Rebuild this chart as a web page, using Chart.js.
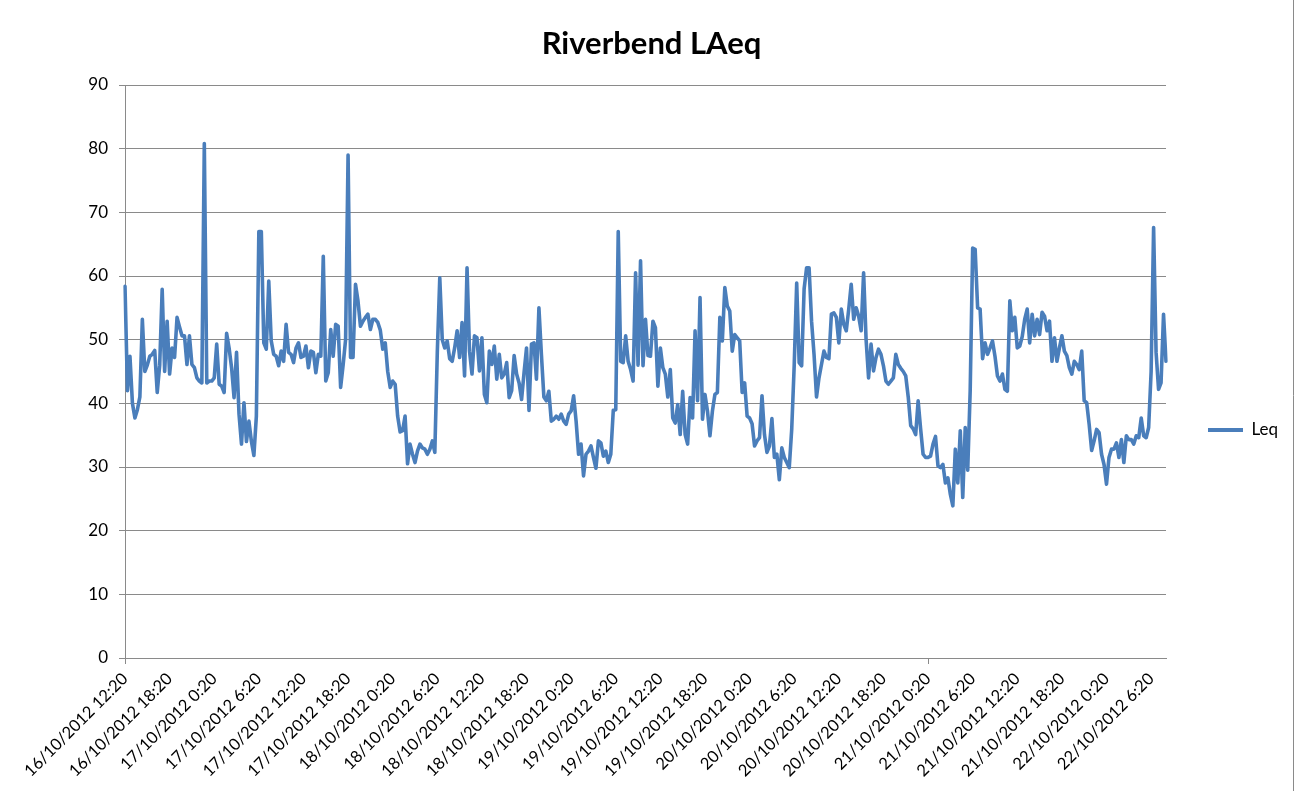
<!DOCTYPE html>
<html>
<head>
<meta charset="utf-8">
<script src="https://cdn.jsdelivr.net/npm/chart.js@4.4.1/dist/chart.umd.min.js"></script>
<style>
  html, body { margin: 0; padding: 0; background: #ffffff; }
  canvas { display: block; }
</style>
</head>
<body>
<canvas id="c" width="1300" height="791"></canvas>
<script>
// ---- Data (LAeq, 20-minute steps) ----
const leq16 = [58.4, 42, 47.4, 40, 37.7, 39, 41, 53.2, 45, 46,
  47.4, 47.7, 48.3, 41.7, 46, 57.9, 45, 52.9, 44.6, 48.7,
  47.2, 53.5, 52, 50.6, 50.6, 46.1, 50.6, 46.1, 45.6, 44,
  43.5, 43.2, 80.8, 43.2, 43.5, 43.5];
const leq17 = [44, 49.3, 43, 42.7, 41.7, 51, 48.7, 45.6, 40.9, 48,
  38.3, 33.6, 40.1, 34, 37.2, 34, 31.8, 38, 67, 67,
  49.5, 48.5, 59.2, 49.8, 47.7, 47.4, 45.9, 48.2, 46.6, 52.4,
  48, 47.7, 46.4, 48.7, 49.5, 47.2, 47.4, 49, 45.6, 48.2,
  48, 44.8, 47.7, 47.4, 63.1, 43.5, 44.8, 51.6, 47.4, 52.4,
  52.1, 42.5, 46, 50, 79, 47.2, 47.2, 58.7, 56.1, 52.1,
  52.9, 53.5, 54, 51.6, 53.2, 53.2, 52.7, 51.5, 48.5, 49.5,
  45, 42.5];
const leq18 = [43.5, 43, 38, 35.5, 35.7, 38, 30.5, 33.6, 32, 30.7,
  32.5, 33.6, 33, 32.8, 32, 32.8, 34.1, 32.3, 48, 59.7,
  50, 48.7, 49.8, 47, 46.6, 48.7, 51.4, 47.2, 52.7, 44.3,
  61.3, 48.2, 44.6, 50.6, 50.3, 45.1, 50.3, 41.4, 40.1, 48.2,
  46.1, 49, 43.8, 47.7, 44, 44.6, 46.4, 40.9, 42, 47.5,
  44.6, 43.2, 40.6, 44.8, 48.7, 38.9, 49.3, 49.5, 43.8, 55,
  47.7, 41, 40.4, 41.9, 37.2, 37.5, 38, 37.5, 38.3, 37.2,
  36.7, 38.3];
const leq19 = [38.8, 41.2, 37.2, 32, 33.6, 28.6, 32, 32.5, 33.3, 31.5,
  29.8, 34.1, 33.8, 31.7, 32.5, 30.7, 32, 38.9, 39, 67,
  46.6, 46.4, 50.6, 46.6, 45.3, 43.5, 60.5, 46, 62.4, 45.9,
  53.2, 47.5, 47.4, 52.9, 51.9, 42.7, 48.7, 45.6, 44.6, 41,
  45.3, 37.7, 36.9, 39.8, 35.1, 41.9, 35.1, 33.6, 40.9, 37.7,
  51.4, 40.4, 56.6, 37.5, 41.4, 38.8, 34.9, 38.8, 41.4, 41.7,
  53.5, 49.8, 58.2, 55.3, 54.5, 48.2, 50.8, 50.3, 49.8, 41.7,
  43.2, 38];
const leq20 = [37.7, 36.8, 33.3, 34.1, 34.6, 41.2, 35.1, 32.3, 33.3, 37.6,
  31.5, 32, 28, 33, 31.5, 30.7, 29.9, 36, 46, 58.9,
  46.4, 45.9, 58, 61.3, 61.3, 52.9, 47.7, 41, 44, 46.1,
  48.2, 47.2, 47, 54, 54.2, 53.5, 49.5, 54.8, 52.4, 51.4,
  54.8, 58.7, 53.2, 55, 53.7, 51.4, 60.5, 50, 44, 49.3,
  45.1, 47.2, 48.5, 47.7, 45.9, 43.5, 43, 43.5, 44, 47.7,
  46.1, 45.5, 45, 44.3, 41, 36.5, 36, 35.1, 40.4, 36,
  32, 31.5];
const leq21 = [31.5, 31.7, 33.6, 34.8, 30.2, 29.9, 30.4, 27.5, 28.3, 25.7,
  23.9, 32.8, 27.5, 35.7, 25.2, 36.2, 29.5, 42, 64.4, 64.2,
  55, 54.8, 47, 49.5, 47.7, 48.7, 49.8, 47.4, 44.3, 43.5,
  44.6, 42.2, 41.9, 56.1, 51.4, 53.5, 48.7, 49, 50.5, 53.2,
  54.8, 49.5, 54, 50.6, 53.2, 50.8, 54.3, 53.7, 51.4, 52.9,
  46.6, 50.3, 46.6, 48.7, 50.6, 48.2, 47.5, 45.6, 44.6, 46.6,
  46.1, 45.3, 48.2, 40.4, 40.1, 36.7, 32.6, 34.1, 35.9, 35.4,
  32, 30.4];
const leq22 = [27.3, 31.5, 32.8, 32.8, 33.8, 31.5, 34.3, 30.7, 34.9, 34.3,
  34.3, 33.6, 34.9, 34.6, 37.7, 34.9, 34.6, 36.2, 45, 67.6,
  48, 42.2, 43.2, 54, 46.6];
const leqValues = [].concat(leq16, leq17, leq18, leq19, leq20, leq21, leq22);

// Axis tick labels shown every 6 hours
const tickLabels = [
  '16/10/2012 12:20', '16/10/2012 18:20',
  '17/10/2012 0:20', '17/10/2012 6:20', '17/10/2012 12:20', '17/10/2012 18:20',
  '18/10/2012 0:20', '18/10/2012 6:20', '18/10/2012 12:20', '18/10/2012 18:20',
  '19/10/2012 0:20', '19/10/2012 6:20', '19/10/2012 12:20', '19/10/2012 18:20',
  '20/10/2012 0:20', '20/10/2012 6:20', '20/10/2012 12:20', '20/10/2012 18:20',
  '21/10/2012 0:20', '21/10/2012 6:20', '21/10/2012 12:20', '21/10/2012 18:20',
  '22/10/2012 0:20', '22/10/2012 6:20'
];
const yTicks = [0, 10, 20, 30, 40, 50, 60, 70, 80, 90];

// Category (timestamp) labels: 20-minute readings from 16/10/2012 12:20
const STEP_MIN = 20;
const PER_TICK = (6 * 60) / STEP_MIN; // 18 readings between labelled ticks
const startMs = Date.UTC(2012, 9, 16, 12, 20);
const categories = leqValues.map((_, i) => {
  const d = new Date(startMs + i * STEP_MIN * 60000);
  return d.getUTCDate() + '/' + (d.getUTCMonth() + 1) + '/' + d.getUTCFullYear() + ' ' +
         d.getUTCHours() + ':' + String(d.getUTCMinutes()).padStart(2, '0');
});

// ---- Styling ----
const FONT = 'Lato';
const GRID = '#8a8a8a';
const AXIS = '#8a8a8a';
const LINE = '#4A7EBB';
const LEG_W = 120;

Chart.defaults.font.family = FONT;

const legendWidthFix = {
  id: 'legendWidthFix',
  beforeLayout(chart) {
    const lg = chart.legend;
    if (lg && !lg.__fixed) {
      const orig = lg.fit.bind(lg);
      lg.fit = function () { orig(); this.width = LEG_W; };
      lg.__fixed = true;
    }
  }
};

const frame = {
  id: 'frame',
  beforeDraw(chart) {
    const c = chart.ctx;
    c.save();
    c.fillStyle = '#ffffff';
    c.fillRect(0, 0, chart.width, chart.height);
    c.strokeStyle = '#8a8a8a';
    c.lineWidth = 1;
    c.beginPath();
    c.moveTo(1293.5, 0);
    c.lineTo(1293.5, chart.height);
    c.stroke();
    c.restore();
  }
};

new Chart(document.getElementById('c'), {
  type: 'line',
  data: {
    labels: categories,
    datasets: [{
      label: 'Leq',
      data: leqValues,
      borderColor: LINE,
      backgroundColor: LINE,
      borderWidth: 3.6,
      pointRadius: 0,
      pointHoverRadius: 0,
      tension: 0,
      fill: false,
      borderJoinStyle: 'round',
      borderCapStyle: 'round'
    }]
  },
  options: {
    responsive: false,
    animation: false,
    devicePixelRatio: 1,
    layout: { padding: { left: 17, right: 14, top: 0, bottom: 0 } },
    plugins: {
      title: {
        display: true,
        text: 'Riverbend LAeq',
        color: '#000000',
        font: { family: FONT, size: 31, weight: 'bold' },
        padding: { top: 25.4, bottom: 22.4 }
      },
      legend: {
        display: true,
        position: 'right',
        align: 'center',
        title: { display: true, text: ' ', font: { size: 1 }, padding: { top: 67.8, bottom: 0 } },
        labels: {
          padding: 42,
          boxWidth: 35,
          boxHeight: 4,
          color: '#000000',
          font: { family: FONT, size: 17 },
          generateLabels(chart) {
            return Chart.defaults.plugins.legend.labels.generateLabels(chart).map(it => ({
              ...it, lineWidth: 0, fillStyle: LINE, strokeStyle: LINE
            }));
          }
        }
      },
      tooltip: { enabled: false }
    },
    scales: {
      x: {
        type: 'category',
        offset: false,
        grid: {
          drawOnChartArea: false,
          drawTicks: true,
          tickLength: 6,
          color: AXIS,
          tickColor: (ctx) => (ctx.index % PER_TICK === 0 ? AXIS : 'rgba(0,0,0,0)')
        },
        border: { color: AXIS, width: 1 },
        ticks: {
          autoSkip: false,
          maxRotation: 45,
          minRotation: 45,
          padding: 5,
          color: '#000000',
          font: { family: FONT, size: 16.5 },
          callback: (v, i) => (i % PER_TICK === 0 ? tickLabels[i / PER_TICK] : null)
        },
        afterFit(scale) { scale.height = 133; }
      },
      y: {
        min: yTicks[0],
        max: yTicks[yTicks.length - 1],
        afterBuildTicks(scale) { scale.ticks = yTicks.map(v => ({ value: v })); },
        grid: { color: GRID, tickLength: 6, tickColor: AXIS },
        border: { color: AXIS, width: 1 },
        ticks: {
          padding: 11,
          color: '#000000',
          font: { family: FONT, size: 17 }
        },
        afterFit(scale) { scale.width = 108; }
      }
    }
  },
  plugins: [legendWidthFix, frame]
});
</script>
</body>
</html>
